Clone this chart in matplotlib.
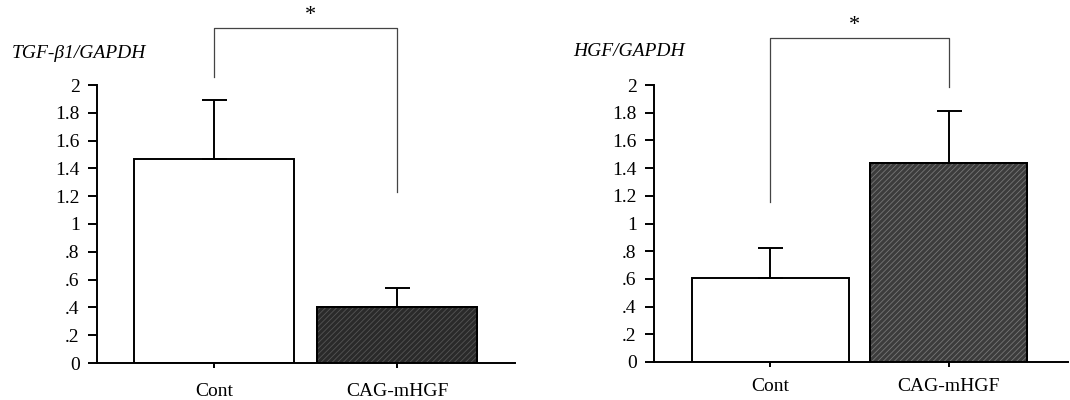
import matplotlib
matplotlib.use("Agg")
import matplotlib.pyplot as plt

plt.rcParams["font.family"] = ["Liberation Serif", "DejaVu Serif"]
plt.rcParams["hatch.linewidth"] = 0.6

groups = ["Cont", "CAG-mHGF"]
yticks = [0, 0.2, 0.4, 0.6, 0.8, 1.0, 1.2, 1.4, 1.6, 1.8, 2.0]
ytick_labels = ["0", ".2", ".4", ".6", ".8", "1", "1.2", "1.4", "1.6", "1.8", "2"]

# TGF-beta1 / GAPDH
tgf_mean = [1.47, 0.40]
tgf_sd = [0.42, 0.14]
# HGF / GAPDH
hgf_mean = [0.61, 1.44]
hgf_sd = [0.21, 0.37]

# significance brackets: (top, left leg bottom, right leg bottom)
tgf_bracket = (2.41, 2.06, 1.23)
hgf_bracket = (2.34, 1.155, 1.985)

fig = plt.figure(figsize=(10.7, 4.0), dpi=100)
axL = fig.add_axes([0.0907, 0.0925, 0.3907, 0.695])
axR = fig.add_axes([0.6112, 0.095, 0.387, 0.6925])


def panel(ax, means, sds, colors, grain, width, xlim, bracket, star_x, star_y,
          title, title_xy, xpad):
    x = range(len(means))
    ax.bar(x, means, width=width, color=colors, edgecolor="black", linewidth=1.4,
           zorder=2)
    # speckled film-scan fill on the treated bar
    ax.bar([1], [means[1]], width=width, facecolor="none", edgecolor=grain,
           hatch="//////", linewidth=0, zorder=2.5)
    ax.bar([1], [means[1]], width=width, facecolor="none", edgecolor="black",
           linewidth=1.4, zorder=2.6)
    ax.errorbar(x, means, yerr=[[0, 0], sds], fmt="none", ecolor="black",
                elinewidth=1.4, capsize=9, capthick=1.4, zorder=3)
    ax.set_xlim(*xlim)
    ax.set_ylim(0, 2)
    ax.set_yticks(yticks)
    ax.set_yticklabels(ytick_labels)
    ax.set_xticks(list(x))
    ax.set_xticklabels(groups)
    for s in ("top", "right"):
        ax.spines[s].set_visible(False)
    for s in ("left", "bottom"):
        ax.spines[s].set_linewidth(1.4)
    ax.tick_params(axis="y", direction="out", length=6.5, width=1.4, pad=6,
                   labelsize=14)
    ax.tick_params(axis="x", direction="out", length=3.5, width=1.4, pad=xpad,
                   labelsize=14)

    top, lb, rb = bracket
    ax.plot([0, 0, 1, 1], [lb, top, top, rb], color="#444444", lw=0.9,
            clip_on=False, zorder=4)
    ax.text(star_x, star_y, "*", ha="center", va="center", fontsize=16,
            clip_on=False)
    ax.text(*title_xy, title, transform=fig.transFigure, fontsize=14,
            style="italic", ha="left", va="baseline")


panel(axL, tgf_mean, tgf_sd, ["white", "#2a2a2a"], "#555555", 0.875,
      (-0.64, 1.645), tgf_bracket, 0.525, 2.50, "TGF-β1/GAPDH",
      (12 / 1070, 1 - 58 / 400), 11)
panel(axR, hgf_mean, hgf_sd, ["white", "#3c3c3c"], "#777777", 0.88,
      (-0.652, 1.67), hgf_bracket, 0.47, 2.43, "HGF/GAPDH",
      (573 / 1070, 1 - 56 / 400), 8)

fig.savefig("out.png", dpi=100, facecolor="white")
